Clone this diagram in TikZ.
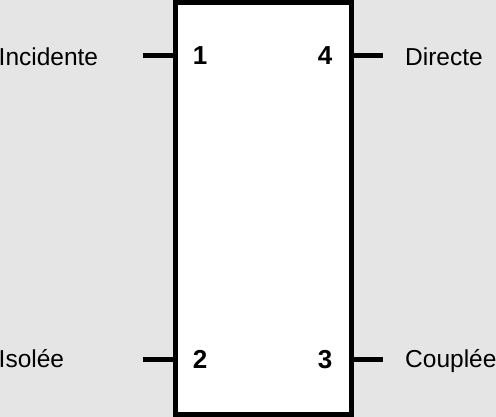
\documentclass[tikz,border=0pt]{standalone}
\usepackage{fontspec}
\setmainfont{Liberation Sans}
\usetikzlibrary{positioning, calc}
\definecolor{bggrey}{RGB}{229,229,229}

\begin{document}
\begin{tikzpicture}[
    x=1pt, y=-1pt,
    coupler/.style={rectangle, draw=black, line width=5pt, fill=white,
        minimum width=175.5pt, minimum height=412pt, inner sep=0pt},
    port/.style={rectangle, draw=none, fill=none, inner sep=0pt,
        font=\fontsize{26}{30}\selectfont\bfseries, text=black},
    portname/.style={rectangle, draw=none, fill=none, inner sep=0pt,
        font=\fontsize{24.5}{29}\selectfont, text=black},
    pin/.style={draw=black, line width=5pt}
]
\fill[bggrey] (0,0) rectangle (496,417);
\useasboundingbox (0,0) rectangle (496,417);

\node (Box) [coupler] at (263.25,208.5) {};

% port numbers
\node (N1) [port] at (200,55.5) {1};
\node (N4) [port] at (325,55.5) {4};
\node (N2) [port] at (200,359.5) {2};
\node (N3) [port] at (325,359.5) {3};

% port names
\node (L1) [portname, anchor=base west] at (-1.5,66) {Incidente};
\node (L2) [portname, anchor=base west] at (-1.5,367) {Isolée};
\node (L4) [portname, anchor=base west] at (405,66) {Directe};
\node (L3) [portname, anchor=base west] at (405,367) {Couplée};

% pins
\coordinate (P1) at (143,55.5);
\coordinate (P2) at (143,359.5);
\coordinate (P4) at (383,55.5);
\coordinate (P3) at (383,359.5);
\draw[pin] (P1) -- (P1 -| Box.west);
\draw[pin] (P2) -- (P2 -| Box.west);
\draw[pin] (P4) -- (P4 -| Box.east);
\draw[pin] (P3) -- (P3 -| Box.east);
\end{tikzpicture}
\end{document}
